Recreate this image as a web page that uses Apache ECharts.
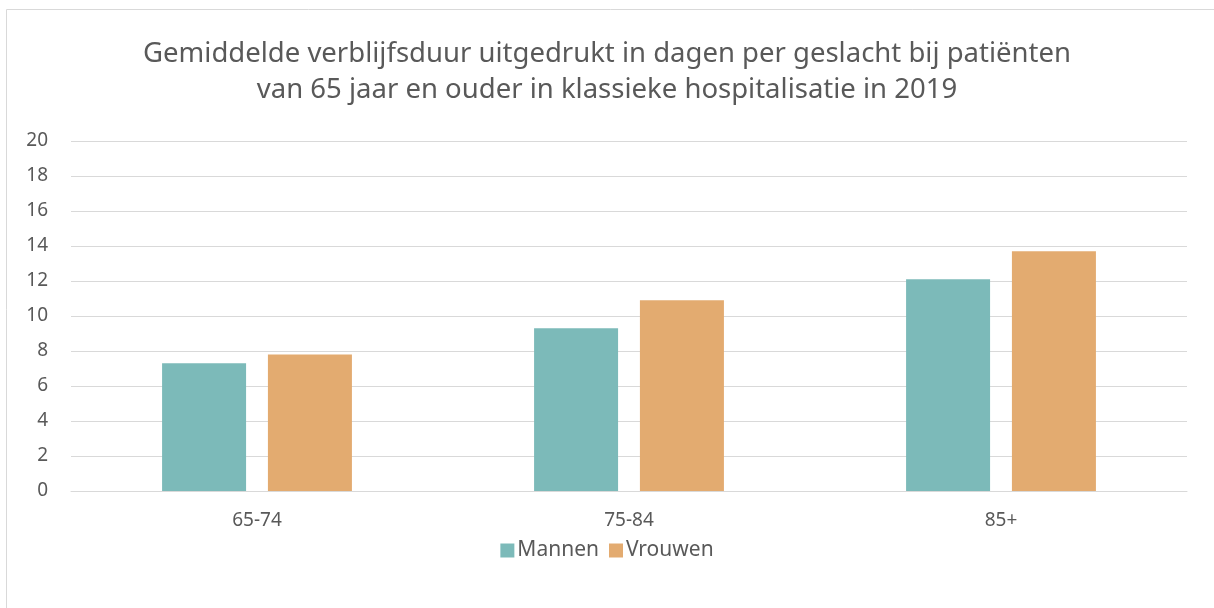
<!DOCTYPE html>
<html>
<head>
<meta charset="utf-8">
<script src="https://cdn.jsdelivr.net/npm/echarts@6/dist/echarts.min.js"></script>
<style>
  html, body { margin: 0; padding: 0; background: #fff; }
  #chart { width: 1214px; height: 608px; }
</style>
</head>
<body>
<div id="chart"></div>
<script>
const categories = ['65-74', '75-84', '85+']
const mannen = [7.3, 9.3, 12.1]
const vrouwen = [7.8, 10.9, 13.7]
const seriesNames = ['Mannen', 'Vrouwen']

const textColor = '#595959'
const font = 'Noto Sans'

const chart = echarts.init(document.getElementById('chart'))
chart.setOption({
  animation: false,
  textStyle: { fontFamily: font },
  title: {
    text: 'Gemiddelde verblijfsduur uitgedrukt in dagen per geslacht bij patiënten\nvan 65 jaar en ouder in klassieke hospitalisatie in 2019',
    left: 'center',
    top: 31,
    textStyle: {
      fontFamily: font,
      fontSize: 27.5,
      fontWeight: 'normal',
      color: textColor,
      lineHeight: 36,
    },
  },
  graphic: [
    {
      // chart frame
      type: 'rect',
      shape: { x: 6.5, y: 9.5, width: 1230, height: 620 },
      style: { fill: 'none', stroke: '#d9d9d9', lineWidth: 1 },
      silent: true,
    },
  ],
  legend: {
    top: 535,
    left: 'center',
    itemWidth: 14,
    itemHeight: 14,
    itemGap: 10,
    icon: 'rect',
    textStyle: { fontFamily: font, fontSize: 21, color: textColor, padding: [0, 0, 0, -2] },
    data: seriesNames,
  },
  grid: {
    left: 71,
    right: 27,
    top: 141,
    bottom: 117,
  },
  xAxis: {
    type: 'category',
    data: categories,
    axisTick: { show: false },
    axisLine: { lineStyle: { color: '#d9d9d9', width: 1 } },
    axisLabel: { fontFamily: font, fontSize: 19, color: textColor, margin: 20 },
  },
  yAxis: {
    type: 'value',
    min: 0,
    max: 20,
    interval: 2,
    axisLine: { show: false },
    axisTick: { show: false },
    axisLabel: { fontFamily: font, fontSize: 19, color: textColor, margin: 23 },
    splitLine: { lineStyle: { color: '#d9d9d9', width: 1 } },
  },
  series: [
    {
      name: seriesNames[0],
      type: 'bar',
      data: mannen,
      barWidth: 84,
      barGap: '26%',
      itemStyle: { color: '#7cbab9' },
    },
    {
      name: seriesNames[1],
      type: 'bar',
      data: vrouwen,
      barWidth: 84,
      itemStyle: { color: '#e3ab70' },
    },
  ],
})
</script>
</body>
</html>
